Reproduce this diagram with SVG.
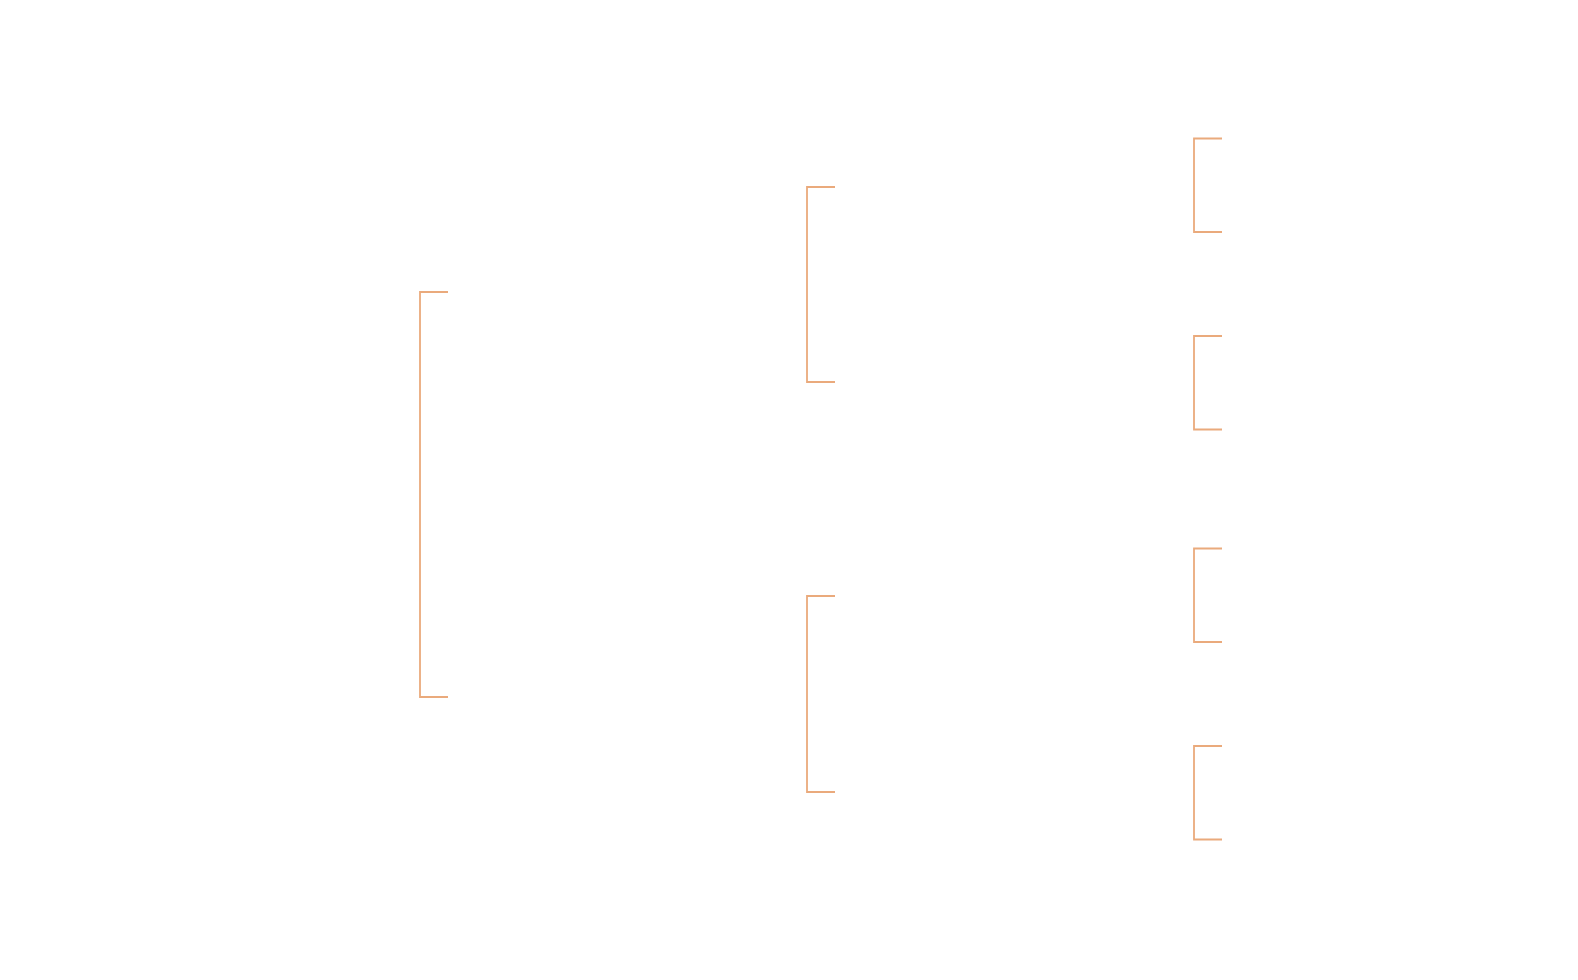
<svg xmlns="http://www.w3.org/2000/svg" width="1578" height="980" viewBox="0 0 1578 980">
<style>
.br{fill:none;stroke:#EAAA7C;stroke-width:1.8}
</style>
<rect width="1578" height="980" fill="#ffffff"/>
<g id="connectors">
<path id="b-root" class="br" d="M448,292 H420 V697 H448"/>
<path id="b-a" class="br" d="M835,187 H807 V382 H835"/>
<path id="b-b" class="br" d="M835,596 H807 V792 H835"/>
<path id="b-a1" class="br" d="M1222,138.5 H1194 V232 H1222"/>
<path id="b-a2" class="br" d="M1222,336 H1194 V429.5 H1222"/>
<path id="b-b1" class="br" d="M1222,548.5 H1194 V642 H1222"/>
<path id="b-b2" class="br" d="M1222,746 H1194 V839.5 H1222"/>
</g>
</svg>
